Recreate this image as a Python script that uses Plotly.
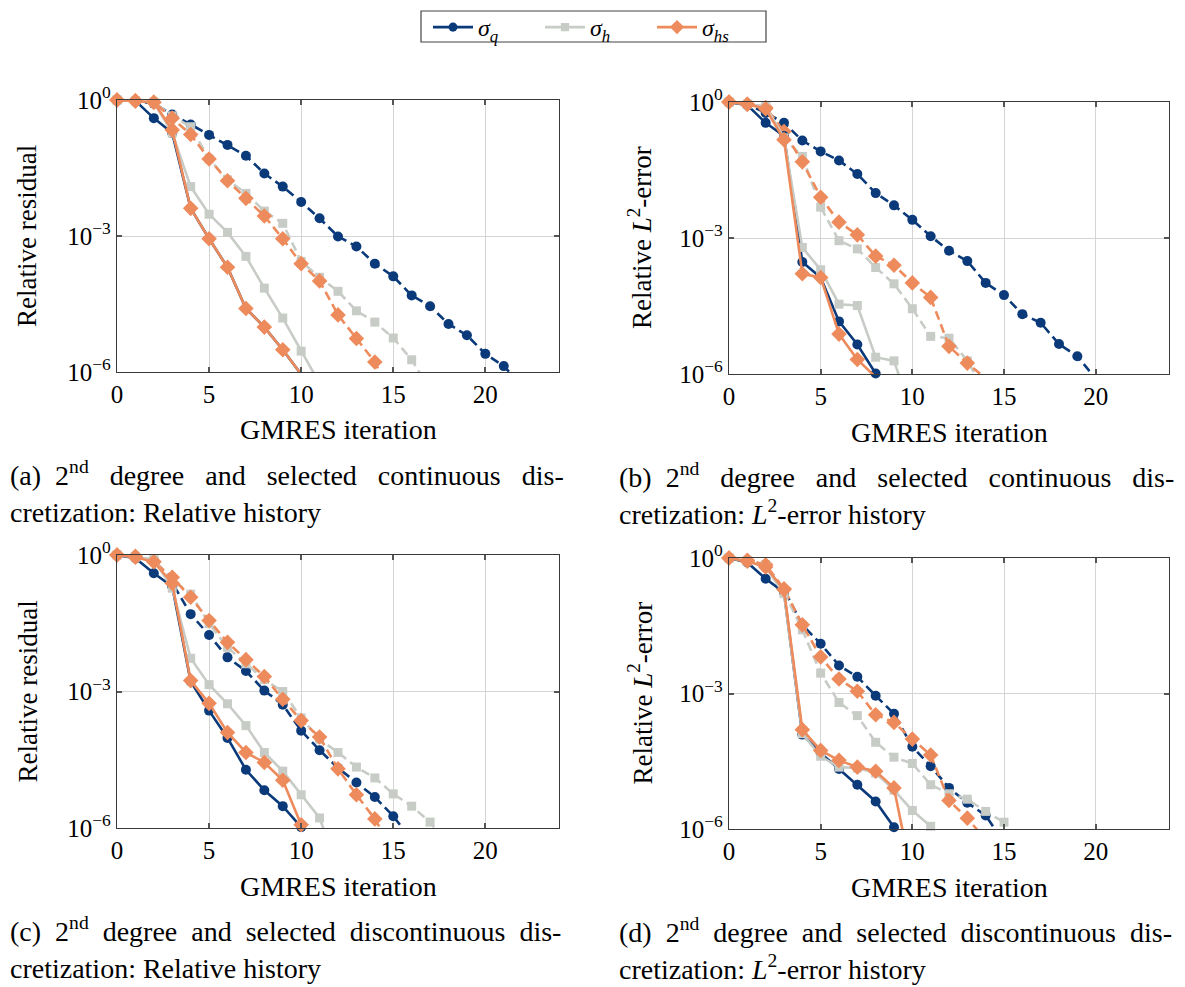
import numpy as np
import plotly.graph_objects as go

W, H = 1185, 987
FONT = "Liberation Serif, Times New Roman, serif"
C_Q = "#0b3a7a"
C_H = "#c8ccc6"
C_HS = "#ee8b5c"

# ---- data: log10 of relative residual / L2 error per GMRES iteration ----
a_q_dash = [0, -0.02, -0.08, -0.32, -0.54, -0.77, -0.99, -1.23, -1.62, -1.91, -2.25, -2.61,
            -3.01, -3.23, -3.61, -3.89, -4.31, -4.55, -4.94, -5.19, -5.60, -5.87, -6.30]
a_h_dash = [0, -0.02, -0.05, -0.35, -0.59, -1.30, -1.76, -2.06, -2.45, -2.72, -3.56, -3.91,
            -4.22, -4.65, -4.90, -5.25, -5.73, -6.40]
a_hs_dash = [0, -0.02, -0.05, -0.40, -0.76, -1.30, -1.78, -2.17, -2.56, -3.06, -3.61, -3.99,
             -4.74, -5.26, -5.78, -6.60]
a_q_solid = [0, -0.02, -0.40, -0.73, -2.39, -3.06, -3.69, -4.60, -5.01, -5.51, -6.05]
a_h_solid = [0, -0.02, -0.05, -0.73, -1.91, -2.52, -2.92, -3.45, -4.15, -4.81, -5.54, -6.25]
a_hs_solid = [0, -0.02, -0.05, -0.66, -2.39, -3.06, -3.69, -4.60, -5.01, -5.51, -6.05]

b_q_dash = [0, -0.05, -0.24, -0.46, -0.85, -1.09, -1.29, -1.59, -2.01, -2.28, -2.60, -2.96,
            -3.28, -3.51, -3.99, -4.26, -4.68, -4.87, -5.34, -5.61, -6.10]
b_h_dash = [0, -0.05, -0.10, -0.80, -1.20, -2.32, -3.06, -3.24, -3.65, -4.01, -4.56, -5.17,
            -5.21, -5.71, -6.40]
b_hs_dash = [0, -0.05, -0.12, -0.65, -1.32, -2.10, -2.65, -2.93, -3.40, -3.60, -3.99, -4.31,
             -5.39, -5.76, -6.10]
b_q_solid = [0, -0.07, -0.46, -0.75, -3.53, -3.87, -4.84, -5.35, -5.99]
b_h_solid = [0, -0.05, -0.10, -0.79, -3.21, -3.70, -4.46, -4.49, -5.63, -5.71, -6.90]
b_hs_solid = [0, -0.05, -0.15, -0.83, -3.79, -3.87, -5.12, -5.68, -6.07]

c_q_dash = [0, -0.05, -0.12, -0.61, -1.30, -1.76, -2.25, -2.55, -2.98, -3.29, -3.86, -4.29,
            -4.68, -5.00, -5.32, -5.74, -6.26]
c_h_dash = [0, -0.03, -0.10, -0.55, -0.86, -1.51, -2.03, -2.39, -2.74, -3.00, -3.58, -4.05,
            -4.34, -4.66, -4.90, -5.25, -5.52, -5.87, -6.40]
c_hs_dash = [0, -0.03, -0.15, -0.49, -0.93, -1.44, -1.92, -2.30, -2.67, -3.17, -3.64, -4.00,
             -4.70, -5.27, -5.80, -6.50]
c_q_solid = [0, -0.07, -0.40, -0.69, -2.78, -3.42, -4.02, -4.72, -5.17, -5.52, -5.98]
c_h_solid = [0, -0.05, -0.10, -0.73, -2.27, -2.85, -3.27, -3.75, -4.34, -4.75, -5.27, -5.78, -6.90]
c_hs_solid = [0, -0.05, -0.15, -0.62, -2.76, -3.26, -3.90, -4.34, -4.56, -4.95, -5.93]

d_q_dash = [0, -0.05, -0.20, -0.70, -1.48, -1.90, -2.38, -2.63, -3.05, -3.45, -4.18, -4.61,
            -5.09, -5.42, -5.70, -6.30]
d_h_dash = [0, -0.05, -0.15, -0.75, -1.59, -2.55, -3.20, -3.49, -4.08, -4.41, -4.55, -5.02,
            -5.22, -5.34, -5.61, -5.85]
d_hs_dash = [0, -0.05, -0.15, -0.68, -1.48, -2.19, -2.68, -2.95, -3.47, -3.64, -4.01, -4.36,
             -5.37, -5.76, -6.24]
d_q_solid = [0, -0.10, -0.46, -0.76, -3.91, -4.32, -4.67, -5.02, -5.39, -5.96]
d_h_solid = [0, -0.07, -0.20, -0.79, -3.89, -4.39, -4.63, -4.65, -4.76, -5.14, -5.59, -5.94]
d_hs_solid = [0, -0.07, -0.20, -0.70, -3.80, -4.26, -4.48, -4.63, -4.72, -5.09, -7.10]

x_ticks = [0, 5, 10, 15, 20]
y_tickvals = [1, 1e-3, 1e-6]
y_ticktext = ["10<sup>0</sup>", "10<sup>\u22123</sup>", "10<sup>\u22126</sup>"]
legend_names = ["<i>\u03c3</i><sub><i>q</i></sub>", "<i>\u03c3</i><sub><i>h</i></sub>",
                "<i>\u03c3</i><sub><i>hs</i></sub>"]
ylabels = ["Relative residual", "Relative <i>L</i><sup>2</sup>-error",
           "Relative residual", "Relative <i>L</i><sup>2</sup>-error"]
xlabel = "GMRES iteration"
S3 = "\u00a0\u00a0\u00a0"
S2 = "\u00a0\u00a0"
captions = [
    (f"(a){S2}2<sup>nd</sup>{S3}degree{S3}and{S3}selected{S3}continuous{S3}dis-",
     "cretization: Relative history"),
    (f"(b){S2}2<sup>nd</sup>{S3}degree{S3}and{S3}selected{S3}continuous{S3}dis-",
     "cretization: <i>L</i><sup>2</sup>-error history"),
    (f"(c){S2}2<sup>nd</sup>{S2}degree{S2}and{S2}selected{S2}discontinuous{S2}dis-",
     "cretization: Relative history"),
    (f"(d){S2}2<sup>nd</sup>{S2}degree{S2}and{S2}selected{S2}discontinuous{S2}dis-",
     "cretization: <i>L</i><sup>2</sup>-error history"),
]

panels = [
    dict(dash=(a_q_dash, a_h_dash, a_hs_dash), solid=(a_q_solid, a_h_solid, a_hs_solid),
         px=(117, 559), py=(100, 372)),
    dict(dash=(b_q_dash, b_h_dash, b_hs_dash), solid=(b_q_solid, b_h_solid, b_hs_solid),
         px=(729, 1169), py=(102, 374)),
    dict(dash=(c_q_dash, c_h_dash, c_hs_dash), solid=(c_q_solid, c_h_solid, c_hs_solid),
         px=(117, 559), py=(555, 828)),
    dict(dash=(d_q_dash, d_h_dash, d_hs_dash), solid=(d_q_solid, d_h_solid, d_hs_solid),
         px=(729, 1169), py=(558, 829)),
]

colors = [C_Q, C_H, C_HS]
symbols = ["circle", "square", "diamond"]
msizes = [10, 9, 12]

fig = go.Figure()
layout = dict(width=W, height=H,
              margin=dict(l=0, r=0, t=0, b=0, pad=0, autoexpand=False),
              paper_bgcolor="white", plot_bgcolor="white",
              font=dict(family=FONT, size=25, color="black"))
annotations = []

for i, p in enumerate(panels):
    xa = "x" if i == 0 else f"x{i+1}"
    ya = "y" if i == 0 else f"y{i+1}"
    for style in ("dash", "solid"):
        for k in range(3):
            vals = np.array(p[style][k], dtype=float)
            yv = 10.0 ** vals
            xv = np.arange(len(vals))
            sizes = np.where(vals >= -6.0, msizes[k], 0)
            fig.add_trace(go.Scatter(
                x=xv, y=yv, mode="lines+markers", xaxis=xa, yaxis=ya,
                line=dict(color=colors[k], width=2.6,
                          dash="solid" if style == "solid" else "9px,5px"),
                marker=dict(symbol=symbols[k], size=sizes, color=colors[k],
                            opacity=1, line=dict(width=0)),
                cliponaxis=False,
                name=legend_names[k],
                showlegend=(i == 0 and style == "solid"),
                legendrank=k,
            ))
    x0, x1 = p["px"]
    y0, y1 = p["py"]
    axcommon = dict(showline=True, linecolor="#3a3a3a", linewidth=1.3, mirror="ticks",
                    ticks="inside", ticklen=5, tickwidth=1.5, tickcolor="#555555",
                    showgrid=True, gridcolor="#d4d4d4", gridwidth=1.3, zeroline=False,
                    tickfont=dict(family=FONT, size=25, color="black"))
    layout["xaxis" if i == 0 else f"xaxis{i+1}"] = dict(
        domain=[x0 / W, x1 / W], anchor=ya, range=[0, 24],
        tickmode="array", tickvals=x_ticks, **axcommon)
    layout["yaxis" if i == 0 else f"yaxis{i+1}"] = dict(
        domain=[1 - y1 / H, 1 - y0 / H], anchor=xa, type="log", range=[-6, 0],
        tickmode="array", tickvals=y_tickvals, ticktext=y_ticktext, **axcommon)
    ycx = 27 if x0 < 600 else 640
    annotations.append(dict(text=ylabels[i], xref="paper", yref="paper",
                            x=ycx / W, y=1 - ((y0 + y1) / 2) / H, textangle=-90,
                            showarrow=False, xanchor="center", yanchor="middle",
                            font=dict(family=FONT, size=27)))
    annotations.append(dict(text=xlabel, xref="paper", yref="paper",
                            x=((x0 + x1) / 2) / W, y=1 - (y1 + 58) / H,
                            showarrow=False, xanchor="center", yanchor="middle",
                            font=dict(family=FONT, size=28)))
    cx = 8 if x0 < 600 else 617
    cy1 = y1 + 106
    for j, line in enumerate(captions[i]):
        annotations.append(dict(text=line, xref="paper", yref="paper",
                                x=cx / W, y=1 - (cy1 + 37 * j + 15) / H,
                                showarrow=False, xanchor="left", yanchor="bottom",
                                align="left", font=dict(family=FONT, size=28)))

layout["annotations"] = annotations
layout["shapes"] = [dict(type="rect", xref="paper", yref="paper",
                         x0=421 / W, x1=766 / W, y0=1 - 42 / H, y1=1 - 11 / H,
                         line=dict(color="#444444", width=1.2), fillcolor="rgba(0,0,0,0)",
                         layer="above")]
layout["legend"] = dict(orientation="h", x=596 / W, xanchor="center", y=1 - 5 / H,
                        yanchor="top", borderwidth=0,
                        bgcolor="rgba(0,0,0,0)", font=dict(family=FONT, size=24),
                        itemwidth=40, entrywidth=57, entrywidthmode="pixels",
                        tracegroupgap=0, traceorder="normal")
fig.update_layout(**layout)
fig.write_html("out.html")
